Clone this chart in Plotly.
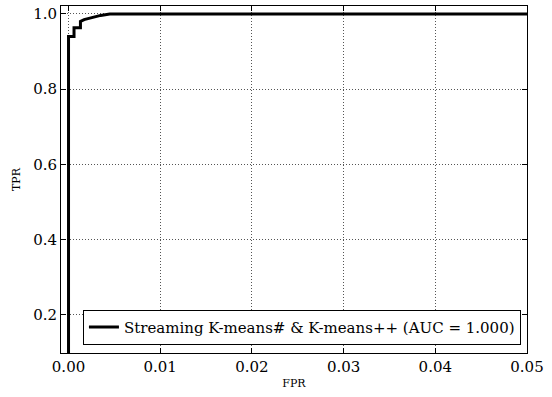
import plotly.graph_objects as go

fpr = [0.0, 0.0, 0.0006, 0.0006, 0.0013, 0.0013, 0.0017, 0.0025, 0.0035, 0.0045, 0.05]
tpr = [0.0, 0.94, 0.94, 0.963, 0.963, 0.98, 0.985, 0.99, 0.996, 1.0, 1.0]
series_name = "Streaming K-means# &amp; K-means++ (AUC = 1.000)"
x_ticks = [0.0, 0.01, 0.02, 0.03, 0.04, 0.05]
y_ticks = [0.2, 0.4, 0.6, 0.8, 1.0]

FONT = "DejaVu Serif, serif"

fig = go.Figure()
fig.add_trace(go.Scatter(x=fpr, y=tpr, mode="lines", name=series_name,
                         line=dict(color="black", width=3)))

axis_common = dict(showline=True, linecolor="black", linewidth=1, mirror="ticks",
                   ticks="inside", ticklen=5, tickcolor="black",
                   showgrid=True, gridcolor="#555", griddash="1px,2px", gridwidth=1,
                   zeroline=False, tickfont=dict(family=FONT, size=15, color="black"))

fig.update_layout(
    width=552, height=397,
    margin=dict(l=61, r=25, t=6, b=44),
    paper_bgcolor="white", plot_bgcolor="white",
    font=dict(family=FONT, color="black"),
    xaxis=dict(range=[-0.00082, 0.05], tickvals=x_ticks, tickformat=".2f",
               title=dict(text="FPR", font=dict(family=FONT, size=11), standoff=4),
               **axis_common),
    yaxis=dict(range=[0.099, 1.021], tickvals=y_ticks, tickformat=".1f",
               title=dict(text="TPR", font=dict(family=FONT, size=11), standoff=10),
               **axis_common),
    legend=dict(x=0.987, y=0.024, xanchor="right", yanchor="bottom",
                bgcolor="white", bordercolor="black", borderwidth=1,
                itemwidth=30,
                font=dict(family=FONT, size=15, color="black")),
    showlegend=True,
)

fig.write_html("out.html")
